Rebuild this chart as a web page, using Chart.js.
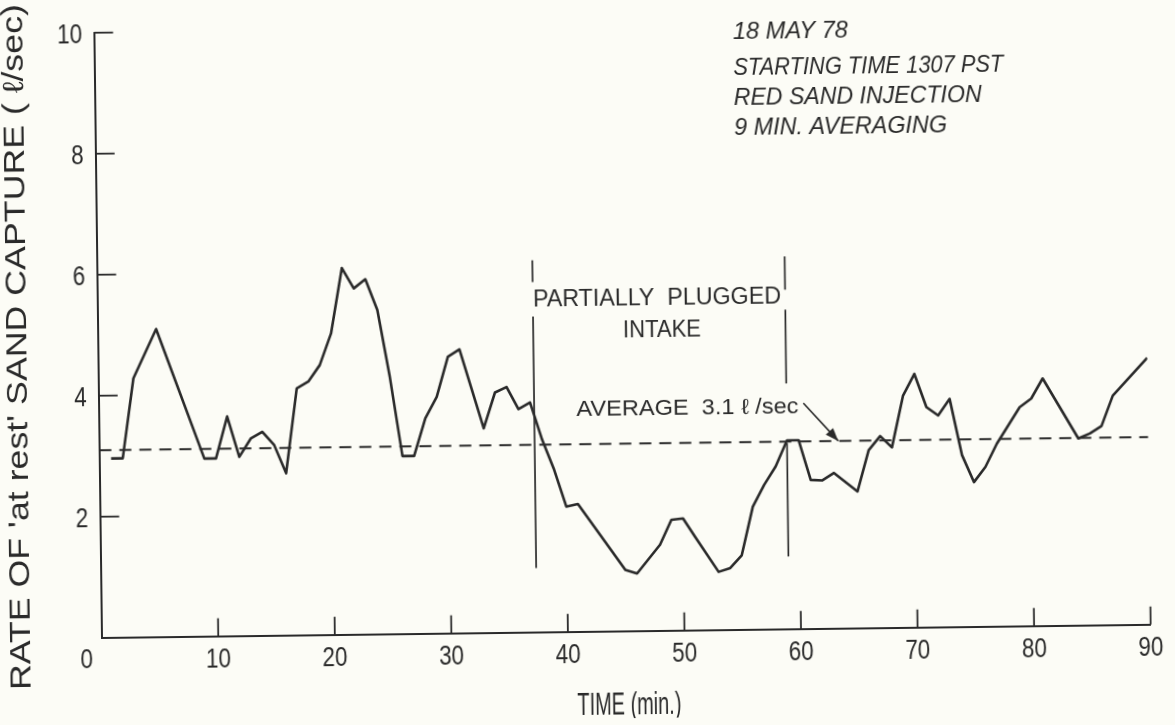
<!DOCTYPE html>
<html lang="en">
<head>
  <meta charset="UTF-8" />
  <title>'At rest' sand capture rate | 18 May 78</title>
  <script src="https://cdn.jsdelivr.net/npm/chart.js"></script>
  <style>
    html, body { margin: 0; padding: 0; background: #fcfcf6; overflow: hidden; }
    /* the plotted sheet sits a little askew on the page */
    #sheet { width: 1175px; height: 725px; transform: rotate(-0.72deg); transform-origin: 101.7px 637.7px; }
  </style>
</head>
<body>
<div id="sheet"><canvas id="captureChart" width="1175" height="725"></canvas></div>

<script>
  // minute of record and 9-min averaged capture rate (litres/sec)
  const minutes = [1, 2, 3, 5, 9, 10, 11, 12, 13, 14,
                   15, 16, 17, 18, 19, 20, 21, 22, 23, 24,
                   25, 26, 27, 28, 29, 30, 31, 33, 34, 35,
                   36, 37, 38, 39, 40, 41, 45, 46, 48, 49,
                   50, 51, 53, 54, 55, 56, 57, 58, 59, 60,
                   61, 62, 63, 65, 66, 67, 68, 69, 70, 71,
                   72, 73, 74, 75, 76, 77, 79, 80, 81, 84,
                   85, 86, 87, 90];
  const rates = [2.96, 2.96, 4.28, 5.09, 2.94, 2.94, 3.63, 2.96, 3.26, 3.37,
                 3.15, 2.68, 4.08, 4.19, 4.46, 4.98, 6.06, 5.72, 5.87, 5.36,
                 4.25, 2.94, 2.94, 3.56, 3.91, 4.57, 4.69, 3.38, 3.97, 4.06,
                 3.69, 3.80, 3.18, 2.68, 2.07, 2.11, 1.01, 0.95, 1.42, 1.83,
                 1.85, 1.55, 0.96, 1.02, 1.23, 2.03, 2.39, 2.69, 3.12, 3.12,
                 2.46, 2.45, 2.57, 2.26, 2.94, 3.17, 2.98, 3.83, 4.19, 3.64,
                 3.50, 3.77, 2.84, 2.39, 2.64, 3.02, 3.62, 3.76, 4.09, 3.09,
                 3.17, 3.29, 3.79, 4.41];
  const averageRate = 3.1;
  const timeTicks = [0, 10, 20, 30, 40, 50, 60, 70, 80, 90];
  const rateTicks = [0, 2, 4, 6, 8, 10];
  // period with the intake partially plugged (min)
  const pluggedFrom = 37.35;
  const pluggedTo = 59.0;

  const notes = ['18 MAY 78', 'STARTING TIME 1307 PST', 'RED SAND INJECTION', '9 MIN. AVERAGING'];

  const INK = '#2a2a2a';
  const LETTERING = "'Liberation Sans', Arimo, 'DejaVu Sans', sans-serif";

  // draw text squeezed/stretched to a given width (lettering-guide look)
  function fitText(ctx, text, x, y, width, font, align) {
    ctx.save();
    ctx.font = font;
    const sx = width / ctx.measureText(text).width;
    ctx.translate(x, y);
    ctx.scale(sx, 1);
    ctx.textAlign = align;
    ctx.fillText(text, 0, 0);
    ctx.restore();
  }

  function squeezeText(ctx, text, x, y, sx, font, align) {
    ctx.save();
    ctx.font = font;
    ctx.translate(x, y);
    ctx.scale(sx, 1);
    ctx.textAlign = align;
    ctx.fillText(text, 0, 0);
    ctx.restore();
  }

  const inkPlugin = {
    id: 'ink',
    afterDraw(chart) {
      const { ctx, chartArea: { left, bottom }, scales: { x, y } } = chart;
      const X = v => x.getPixelForValue(v);
      const Y = v => y.getPixelForValue(v);
      const line = (x1, y1, x2, y2) => { ctx.beginPath(); ctx.moveTo(x1, y1); ctx.lineTo(x2, y2); ctx.stroke(); };

      ctx.save();
      ctx.strokeStyle = INK;
      ctx.fillStyle = INK;
      ctx.textBaseline = 'middle';

      // tick marks point into the plot
      ctx.lineWidth = 1.8;
      x.ticks.forEach(t => { if (t.value > 0) line(X(t.value), bottom, X(t.value), bottom - 18); });
      y.ticks.forEach(t => { if (t.value > 0) line(left, Y(t.value), left + 19, Y(t.value)); });

      // tick labels; the single 0 sits off the corner
      const tickFont = '28px ' + LETTERING;
      x.ticks.forEach(t => {
        if (t.value === 0) squeezeText(ctx, '0', left - 9, bottom + 23, 0.8, tickFont, 'right');
        else squeezeText(ctx, String(t.value), X(t.value), bottom + 24, 0.8, tickFont, 'center');
      });
      y.ticks.forEach(t => {
        if (t.value > 0) squeezeText(ctx, String(t.value), left - 12, Y(t.value) + 3, 0.8, tickFont, 'right');
      });

      // axis titles
      fitText(ctx, 'TIME (min.)', X(45.2), bottom + 75, 104, '31px ' + LETTERING, 'center');
      ctx.save();
      ctx.translate(21.6, Y(4.82));
      ctx.rotate(-Math.PI / 2);
      fitText(ctx, "RATE OF 'at rest' SAND CAPTURE ( \u2113/sec)", 0, 0, 686, '29px ' + LETTERING, 'center');
      ctx.restore();

      // run notes, top right
      const noteFont = 'italic 24px ' + LETTERING;
      const noteWidths = [115, 270, 248, 213];
      const noteRows = [9.88, 9.28, 8.78, 8.29];
      notes.forEach((txt, i) => fitText(ctx, txt, X(54.8), Y(noteRows[i]), noteWidths[i], noteFont, 'left'));

      // partially plugged intake bracket
      ctx.lineWidth = 1.7;
      [[6.15, 5.79], [5.22, 1.06]].forEach(([a, b]) => line(X(pluggedFrom), Y(a), X(pluggedFrom), Y(b)));
      [[6.16, 5.61], [5.28, 4.06], [3.07, 1.2]].forEach(([a, b]) => line(X(pluggedTo), Y(a), X(pluggedTo), Y(b)));
      fitText(ctx, 'PARTIALLY  PLUGGED', X(48.0), Y(5.49), 248, '23px ' + LETTERING, 'center');
      fitText(ctx, 'INTAKE', X(48.4), Y(4.96), 78, '23px ' + LETTERING, 'center');

      // average label with arrow onto the dashed line
      fitText(ctx, 'AVERAGE  3.1 \u2113 /sec', X(50.5), Y(3.66), 222, '22px ' + LETTERING, 'center');
      const ax1 = X(60.45), ay1 = Y(3.73), ax2 = X(63.4), ay2 = Y(averageRate);
      ctx.lineWidth = 1.6;
      line(ax1, ay1, ax2, ay2);
      const ang = Math.atan2(ay2 - ay1, ax2 - ax1);
      ctx.beginPath();
      ctx.moveTo(ax2, ay2);
      ctx.lineTo(ax2 - 13 * Math.cos(ang) + 5 * Math.sin(ang), ay2 - 13 * Math.sin(ang) - 5 * Math.cos(ang));
      ctx.lineTo(ax2 - 13 * Math.cos(ang) - 5 * Math.sin(ang), ay2 - 13 * Math.sin(ang) + 5 * Math.cos(ang));
      ctx.closePath();
      ctx.fill();

      ctx.restore();
    }
  };

  new Chart(document.getElementById('captureChart').getContext('2d'), {
    type: 'line',
    data: {
      datasets: [
        {
          label: 'Capture rate',
          data: minutes.map((m, i) => ({ x: m, y: rates[i] })),
          borderColor: INK,
          borderWidth: 2.6,
          pointRadius: 0,
          tension: 0,
          borderJoinStyle: 'round'
        },
        {
          label: 'Average',
          data: [{ x: 0, y: averageRate }, { x: 90, y: averageRate }],
          borderColor: INK,
          borderWidth: 2,
          borderDash: [12, 8],
          pointRadius: 0
        }
      ]
    },
    options: {
      responsive: false,
      devicePixelRatio: 1,
      animation: false,
      layout: { padding: { left: 101.7, right: 24.3, top: 32.7, bottom: 87.3 } },
      plugins: { legend: { display: false }, tooltip: { enabled: false } },
      scales: {
        x: {
          type: 'linear', min: 0, max: 90,
          afterBuildTicks: s => { s.ticks = timeTicks.map(v => ({ value: v })); },
          ticks: { display: false },
          grid: { drawOnChartArea: false, drawTicks: false },
          border: { display: true, color: INK, width: 2 }
        },
        y: {
          type: 'linear', min: 0, max: 10,
          afterBuildTicks: s => { s.ticks = rateTicks.map(v => ({ value: v })); },
          ticks: { display: false },
          grid: { drawOnChartArea: false, drawTicks: false },
          border: { display: true, color: INK, width: 2 }
        }
      }
    },
    plugins: [inkPlugin]
  });
</script>
</body>
</html>
